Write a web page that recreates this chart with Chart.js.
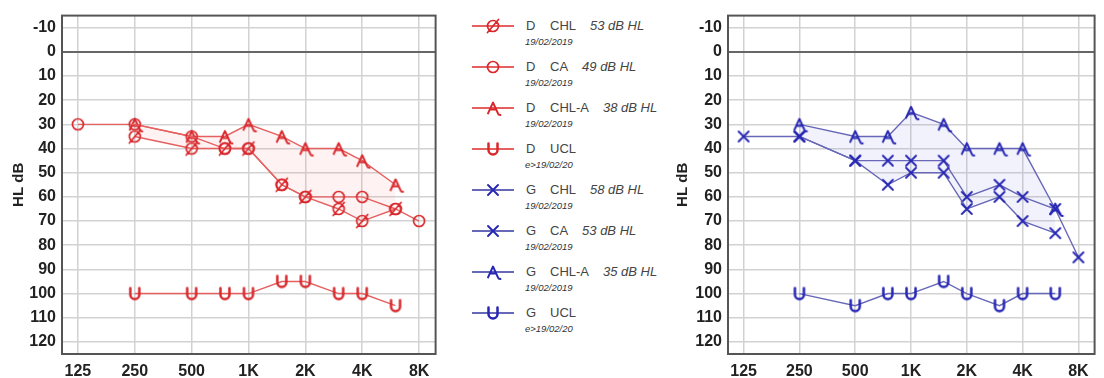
<!DOCTYPE html>
<html>
<head>
<meta charset="utf-8">
<script src="https://cdn.jsdelivr.net/npm/chart.js@4"></script>
<style>
  body { margin: 0; background: #fff; width: 1104px; height: 378px; position: relative; overflow: hidden; font-family: "Liberation Sans", Arial, sans-serif; }
  .chartBox { position: absolute; top: 0; height: 378px; }
  #left { left: 0; width: 445px; }
  #right { left: 664px; width: 440px; }
  .row { position: absolute; left: 472px; height: 34px; color: #444; }
  .row .sample { position: absolute; left: 0; top: 0; width: 42px; height: 20px; }
  .row .sample i { position: absolute; left: 0; top: 9px; width: 42px; height: 1.5px; }
  .row .sample img { position: absolute; left: 11px; top: 0; width: 20px; height: 20px; }
  .row .side { position: absolute; left: 54px; top: 2px; font-size: 13px; }
  .row .label { position: absolute; left: 78px; top: 2px; font-size: 13px; white-space: nowrap; }
  .row .label em { margin-left: 14px; }
  .row .date { position: absolute; left: 53px; top: 20px; font-size: 9.5px; font-style: italic; color: #333; white-space: nowrap; }
</style>
</head>
<body>
<div class="chartBox" id="left"><canvas id="chartD"></canvas></div>
<div class="chartBox" id="right"><canvas id="chartG"></canvas></div>
<div id="legend"></div>
<script>
// Frequencies (Hz) and dB levels
const freqs = [125, 250, 500, 750, 1000, 1500, 2000, 3000, 4000, 6000, 8000];
const freqTicks = [125, 250, 500, 1000, 2000, 4000, 8000];
const freqLabels = ["125", "250", "500", "1K", "2K", "4K", "8K"];
const dbTicks = [-10, 0, 10, 20, 30, 40, 50, 60, 70, 80, 90, 100, 110, 120];

// Right ear (D)
const dChl  = [null, 35, 40, 40, 40, 55, 60, 65, 70, 65, null];
const dCa   = [30, 30, 35, 40, 40, 55, 60, 60, 60, 65, 70];
const dChlA = [null, 30, 35, 35, 30, 35, 40, 40, 45, 55, null];
const dUcl  = [null, 100, 100, 100, 100, 95, 95, 100, 100, 105, null];

// Left ear (G)
const gChl  = [null, 35, 45, 55, 50, 50, 65, 60, 70, 75, null];
const gCa   = [35, 35, 45, 45, 45, 45, 60, 55, 60, 65, 85];
const gChlA = [null, 30, 35, 35, 25, 30, 40, 40, 40, 65, null];
const gUcl  = [null, 100, 105, 100, 100, 95, 100, 105, 100, 100, null];

// Legend entries
const legendSides = ["D", "D", "D", "D", "G", "G", "G", "G"];
const legendNames = ["CHL", "CA", "CHL-A", "UCL", "CHL", "CA", "CHL-A", "UCL"];
const legendValues = ["53 dB HL", "49 dB HL", "38 dB HL", "", "58 dB HL", "53 dB HL", "35 dB HL", ""];
const legendDates = ["19/02/2019", "19/02/2019", "19/02/2019", "e>19/02/20", "19/02/2019", "19/02/2019", "19/02/2019", "e>19/02/20"];
const legendKinds = ["slash", "circle", "a", "u", "x", "x", "a", "u"];

const RED = "#d8282c", RED_LINE = "#e66060";
const BLUE = "#2626b4", BLUE_LINE = "#6868b8";

function makeSymbol(kind, color) {
  const c = document.createElement("canvas");
  c.width = 20; c.height = 20;
  const g = c.getContext("2d");
  g.strokeStyle = color;
  g.lineWidth = 1.7;
  g.lineCap = "round";
  g.lineJoin = "round";
  g.beginPath();
  if (kind === "circle" || kind === "slash") {
    g.arc(10, 10, 5.5, 0, Math.PI * 2);
    if (kind === "slash") { g.moveTo(4.5, 16.5); g.lineTo(15.5, 3.5); }
  } else if (kind === "a") {
    g.lineWidth = 1.9;
    g.moveTo(5, 15.5); g.lineTo(10, 4.5); g.lineTo(15, 15.5);
    g.moveTo(7, 11.5); g.lineTo(13, 11.5);
    g.moveTo(15.5, 16.5); g.lineTo(17.5, 17);
  } else if (kind === "u") {
    g.lineWidth = 2.5;
    g.moveTo(5.5, 4.5); g.lineTo(5.5, 11);
    g.arc(10, 11, 4.5, Math.PI, 0, true);
    g.lineTo(14.5, 4.5);
  } else if (kind === "x") {
    g.lineWidth = 1.9;
    g.moveTo(5, 5); g.lineTo(15, 15);
    g.moveTo(15, 5); g.lineTo(5, 15);
  }
  g.stroke();
  return c;
}

function pts(values) {
  const out = [];
  freqs.forEach((f, i) => { if (values[i] !== null) out.push({ x: f, y: values[i] }); });
  return out;
}

function line(values, kind, color, lineColor, extra) {
  return Object.assign({
    data: pts(values),
    borderColor: lineColor,
    borderWidth: 1.4,
    pointStyle: makeSymbol(kind, color),
    pointRadius: 8,
    fill: false,
    tension: 0
  }, extra || {});
}

const boxPlugin = {
  id: "box",
  beforeDatasetsDraw(chart) {
    const { ctx, chartArea: a } = chart;
    ctx.save();
    ctx.strokeStyle = "#555";
    ctx.lineWidth = 2;
    ctx.strokeRect(a.left, a.top, a.right - a.left, a.bottom - a.top);
    ctx.restore();
  }
};

function makeChart(id, datasets, padRight, axisWidth) {
  return new Chart(document.getElementById(id), {
    type: "line",
    data: { datasets: datasets },
    plugins: [boxPlugin],
    options: {
      responsive: true,
      maintainAspectRatio: false,
      animation: false,
      layout: { padding: { top: 12, right: padRight, bottom: 0, left: 0 } },
      plugins: { legend: { display: false }, tooltip: { enabled: false } },
      scales: {
        x: {
          type: "logarithmic",
          min: 103,
          max: 9780,
          afterBuildTicks: s => { s.ticks = freqTicks.map(v => ({ value: v })); },
          afterFit: s => { s.height = 24; },
          ticks: {
            autoSkip: false,
            maxRotation: 0,
            padding: 8,
            color: "#222",
            font: { family: "Liberation Sans", size: 16, weight: "bold" },
            callback: v => freqLabels[freqTicks.indexOf(v)]
          },
          grid: { color: "#d2d2d2", lineWidth: 1.5, drawTicks: false },
          border: { display: false }
        },
        y: {
          type: "linear",
          reverse: true,
          min: -15,
          max: 125,
          afterBuildTicks: s => { s.ticks = dbTicks.map(v => ({ value: v })); },
          afterFit: s => { s.width = axisWidth; },
          ticks: {
            padding: 6,
            color: "#222",
            font: { family: "Liberation Sans", size: 16, weight: "bold" },
            callback: v => String(v)
          },
          grid: {
            color: c => (c.tick && c.tick.value === 0 ? "#666" : "#d2d2d2"),
            lineWidth: c => (c.tick && c.tick.value === 0 ? 2 : 1.5),
            drawTicks: false
          },
          border: { display: false },
          title: {
            display: true,
            text: "HL dB",
            color: "#222",
            padding: { top: 10, bottom: 0 },
            font: { family: "Liberation Sans", size: 15, weight: "bold" }
          }
        }
      }
    }
  });
}

makeChart("chartD", [
  line(dChl, "slash", RED, RED_LINE),
  line(dCa, "circle", RED, RED_LINE),
  line(dChlA, "a", RED, RED_LINE, { fill: { target: "-2" }, backgroundColor: "rgba(240,110,110,0.09)" }),
  line(dUcl, "u", RED, RED_LINE)
], 7, 62);

makeChart("chartG", [
  line(gChl, "x", BLUE, BLUE_LINE),
  line(gCa, "x", BLUE, BLUE_LINE),
  line(gChlA, "a", BLUE, BLUE_LINE, { fill: { target: "-2" }, backgroundColor: "rgba(110,110,220,0.09)" }),
  line(gUcl, "u", BLUE, BLUE_LINE)
], 2, 64);

// Legend
const legend = document.getElementById("legend");
legendNames.forEach((name, i) => {
  const isD = legendSides[i] === "D";
  const row = document.createElement("div");
  row.className = "row";
  row.style.top = (16 + i * 41) + "px";
  const img = makeSymbol(legendKinds[i], isD ? RED : BLUE).toDataURL();
  row.innerHTML =
    '<div class="sample"><i style="background:' + (isD ? RED_LINE : BLUE_LINE) + '"></i><img src="' + img + '"></div>' +
    '<span class="side">' + legendSides[i] + '</span>' +
    '<span class="label">' + name + (legendValues[i] ? '<em>' + legendValues[i] + '</em>' : '') + '</span>' +
    '<span class="date">' + legendDates[i] + '</span>';
  legend.appendChild(row);
});
</script>
</body>
</html>
